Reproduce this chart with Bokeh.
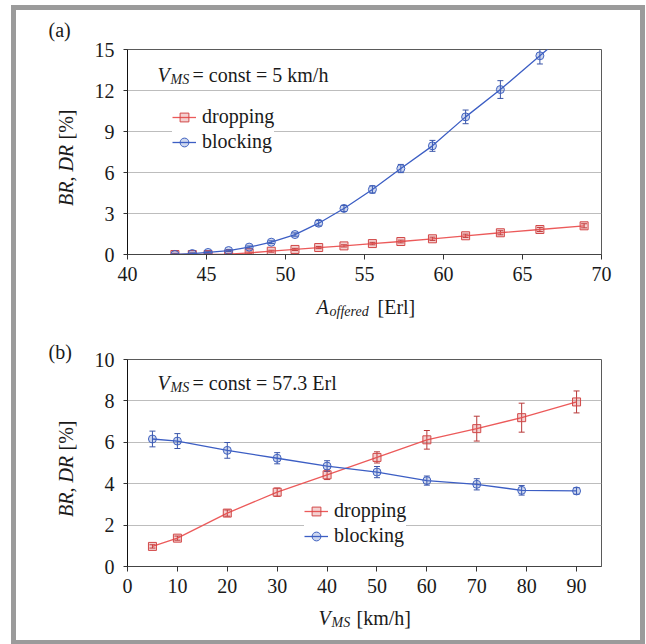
import math
from bokeh.plotting import figure
from bokeh.models import (ColumnDataSource, Range1d, FixedTicker, Whisker, TeeHead,
                          Legend, LegendItem, Label)
from bokeh.core.properties import value
from bokeh.layouts import column, row
from bokeh.embed import file_html
from bokeh.resources import INLINE

# ---- panel (a): offered load sweep at V_MS = 5 km/h ----
a_offered = [43.0, 44.1, 45.1, 46.4, 47.7, 49.1, 50.6, 52.1, 53.7, 55.5, 57.3, 59.3, 61.4, 63.6, 66.1, 68.9]
dropping_a = [0.0, 0.0, 0.0, 0.02, 0.12, 0.24, 0.37, 0.51, 0.63, 0.80, 0.95, 1.15, 1.37, 1.59, 1.83, 2.10]
dropping_a_err = [0.05, 0.05, 0.05, 0.05, 0.06, 0.07, 0.08, 0.08, 0.08, 0.09, 0.10, 0.12, 0.12, 0.15, 0.15, 0.15]
blocking_a = [0.0, 0.07, 0.15, 0.29, 0.54, 0.90, 1.46, 2.29, 3.37, 4.76, 6.29, 7.95, 10.07, 12.07, 14.54, 17.3]
blocking_a_err = [0.05, 0.05, 0.06, 0.07, 0.08, 0.10, 0.12, 0.20, 0.22, 0.27, 0.30, 0.40, 0.50, 0.65, 0.60, 0.70]
x_ticks_a = [40, 45, 50, 55, 60, 65, 70]
y_ticks_a = [0, 3, 6, 9, 12, 15]

# ---- panel (b): speed sweep at A = 57.3 Erl ----
v_ms = [5, 10, 20, 30, 40, 50, 60, 70, 79, 90]
dropping_b = [0.97, 1.37, 2.58, 3.59, 4.43, 5.27, 6.12, 6.66, 7.19, 7.95]
dropping_b_err = [0.08, 0.10, 0.15, 0.20, 0.23, 0.27, 0.45, 0.60, 0.70, 0.53]
blocking_b = [6.16, 6.06, 5.61, 5.23, 4.85, 4.56, 4.15, 3.97, 3.68, 3.65]
blocking_b_err = [0.38, 0.36, 0.38, 0.27, 0.26, 0.27, 0.22, 0.27, 0.23, 0.16]
x_ticks_b = [0, 10, 20, 30, 40, 50, 60, 70, 80, 90]
y_ticks_b = [0, 2, 4, 6, 8, 10]

SERIF = "Liberation Serif"
INK = "#1a1a1a"
RED_LINE, RED_MARK, RED_ERR = "#ec5a5a", "#d24848", "#b83a3a"
BLUE_LINE, BLUE_MARK, BLUE_ERR = "#3c5ec4", "#4062c0", "#3a55a8"


def make_panel(width, height, xr, yr, xt, yt, borders):
    top, right, bottom, left = borders
    p = figure(width=width, height=height, output_backend="svg", toolbar_location=None,
               x_range=Range1d(*xr), y_range=Range1d(*yr), frame_align=False,
               min_border_top=top, min_border_right=right,
               min_border_bottom=bottom, min_border_left=left)
    p.background_fill_color = "white"
    p.border_fill_color = "white"
    p.outline_line_color = "#5a5a5a"
    p.outline_line_width = 1
    p.xgrid.visible = False
    p.ygrid.grid_line_color = "#bdbdbd"
    p.ygrid.grid_line_width = 1
    p.xaxis.ticker = FixedTicker(ticks=xt)
    p.yaxis.ticker = FixedTicker(ticks=yt)
    for ax in (p.xaxis, p.yaxis):
        ax.major_label_text_font = SERIF
        ax.major_label_text_font_size = "20px"
        ax.major_label_text_color = INK
        ax.major_tick_in = 0
        ax.minor_tick_line_color = None
        ax.major_tick_line_color = "#333333"
    p.xaxis.axis_line_color = "#444444"
    p.xaxis.major_tick_out = 5
    p.xaxis.major_label_standoff = 7
    p.yaxis.axis_line_color = "#111111"
    p.yaxis.major_tick_out = 4
    p.yaxis.major_label_standoff = 9
    return p


def text_canvas(width, height):
    # blank drawing area whose data units are pixels (origin bottom-left)
    c = figure(width=width, height=height, output_backend="svg", toolbar_location=None,
               x_range=Range1d(0, width), y_range=Range1d(0, height), frame_align=False,
               x_axis_location=None, y_axis_location=None, min_border=0)
    c.grid.visible = False
    c.outline_line_color = None
    c.background_fill_color = "white"
    c.border_fill_color = "white"
    return c


def put(c, x, y, s, size="20px", style="normal", angle=0.0,
        align="left", baseline="alphabetic"):
    c.text(x=[x], y=[y], text=[s], angle=angle, text_font=value(SERIF),
           text_font_size=size, text_font_style=style, text_color=INK,
           text_baseline=baseline, text_align=align)


def add_series(p, xs, ys, errs, line_color, mark_color, err_color, marker):
    src = ColumnDataSource(dict(x=xs, y=ys,
                                upper=[y + e for y, e in zip(ys, errs)],
                                lower=[y - e for y, e in zip(ys, errs)]))
    w = Whisker(source=src, base="x", upper="upper", lower="lower",
                line_color=err_color, line_width=1,
                upper_head=TeeHead(size=6, line_color=err_color, line_width=1),
                lower_head=TeeHead(size=6, line_color=err_color, line_width=1))
    p.add_layout(w)
    ln = p.line("x", "y", source=src, line_color=line_color, line_width=1.3)
    sc = p.scatter("x", "y", source=src, marker=marker, size=8,
                   line_color=mark_color, line_width=1,
                   fill_color=mark_color, fill_alpha=0.25)
    return ln, sc


def inner_text(p, fx, fy, s, size="20px", style="normal"):
    # fx, fy: pixels from the frame's left / bottom edge
    p.add_layout(Label(x=fx, y=fy, x_units="screen", y_units="screen", text=s,
                       text_font=SERIF, text_font_size=size, text_font_style=style,
                       text_color=INK, text_baseline="alphabetic"))


def legend_for(p, items, loc):
    lg = Legend(items=[LegendItem(label=lab, renderers=list(rs)) for lab, rs in items],
                location=loc, background_fill_color="white", background_fill_alpha=1.0,
                border_line_color=None, label_text_font=SERIF, label_text_font_size="20px",
                label_text_color=INK, glyph_width=24, glyph_height=22,
                label_height=22, spacing=2, padding=4, margin=0, label_standoff=6)
    p.add_layout(lg)


def y_title(c, c_main, c_unit):
    put(c, 49, c_main, "BR, DR", style="italic", angle=math.pi / 2,
        align="center", baseline="middle")
    put(c, 49, c_unit, "[%]", angle=math.pi / 2, align="center", baseline="middle")


# ---------------- panel (a) ----------------
pa = make_panel(560, 280, (40, 70), (0, 15), x_ticks_a, y_ticks_a, (39, 39, 36, 47))
da = add_series(pa, a_offered, dropping_a, dropping_a_err, RED_LINE, RED_MARK, RED_ERR, "square")
ba = add_series(pa, a_offered, blocking_a, blocking_a_err, BLUE_LINE, BLUE_MARK, BLUE_ERR, "circle")
legend_for(pa, [("dropping", da), ("blocking", ba)], (45, 101))
inner_text(pa, 30, 180, "V", style="italic")
inner_text(pa, 43, 175, "MS", size="14px", style="italic")
inner_text(pa, 65, 180, "= const = 5 km/h")

ya = text_canvas(64, 280)
put(ya, 32, 261, "(a)")
y_title(ya, 115, 166)

xa = text_canvas(624, 40)
put(xa, 300, 24, "A", style="italic")
put(xa, 313, 19, "offered", size="14px", style="italic")
put(xa, 361, 24, "[Erl]")

# ---------------- panel (b) ----------------
pb = make_panel(560, 270, (0, 95), (0, 10), x_ticks_b, y_ticks_b, (29, 39, 34, 47))
db = add_series(pb, v_ms, dropping_b, dropping_b_err, RED_LINE, RED_MARK, RED_ERR, "square")
bb = add_series(pb, v_ms, blocking_b, blocking_b_err, BLUE_LINE, BLUE_MARK, BLUE_ERR, "circle")
legend_for(pb, [("dropping", db), ("blocking", bb)], (177, 19))
inner_text(pb, 30, 184, "V", style="italic")
inner_text(pb, 43, 179, "MS", size="14px", style="italic")
inner_text(pb, 65, 184, "= const = 57.3 Erl")

yb = text_canvas(64, 270)
put(yb, 32, 249, "(b)")
y_title(yb, 114, 165)

xb = text_canvas(624, 40)
put(xb, 302, 23, "V", style="italic")
put(xb, 315, 18, "MS", size="14px", style="italic")
put(xb, 340, 23, "[km/h]")

page = column(row(ya, pa), xa, row(yb, pb), xb,
              styles={"border": "5px solid #9b9b9b", "margin-left": "11px",
                      "margin-top": "5px", "background-color": "white"})

open("out.html", "w").write(file_html(page, INLINE))
